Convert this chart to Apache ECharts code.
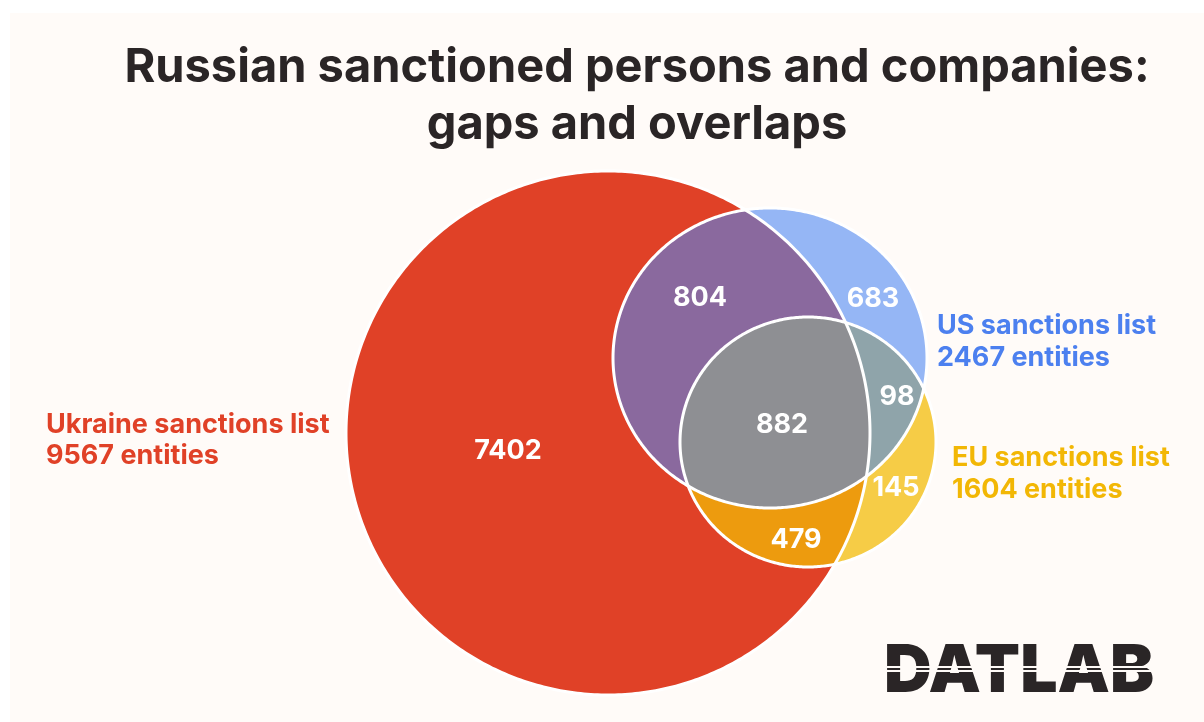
<!DOCTYPE html>
<html>
<head>
<meta charset="utf-8">
<script src="https://cdn.jsdelivr.net/npm/echarts@6/dist/echarts.min.js"></script>
<style>
  html, body { margin: 0; padding: 0; background: #ffffff; }
  #chart { width: 1204px; height: 722px; }
</style>
</head>
<body>
<div id="chart"></div>
<script>
// ---- Data -------------------------------------------------------------
// Sanction lists
const setKeys = ['Ukraine', 'US', 'EU'];
const setTitles = ['Ukraine sanctions list', 'US sanctions list', 'EU sanctions list'];

// Exclusive Venn regions: which lists each region belongs to, and its count
const regionMembers = [
  ['Ukraine'],
  ['Ukraine', 'US'],
  ['US'],
  ['Ukraine', 'US', 'EU'],
  ['US', 'EU'],
  ['EU'],
  ['Ukraine', 'EU']
];
const regionCounts = [7402, 804, 683, 882, 98, 145, 479];

// List totals are the sum of every region a list takes part in
const setTotals = setKeys.map(k =>
  regionCounts.reduce((s, v, i) => s + (regionMembers[i].includes(k) ? v : 0), 0)
);

// ---- Layout (diagram geometry, in plot units) ------------------------
const shapeGeom = {
  Ukraine: { cx: 608, cy: 433, rx: 262, ry: 262 },
  US:      { cx: 770, cy: 358, rx: 157, ry: 150 },
  EU:      { cx: 808, cy: 442, rx: 128, ry: 125 }
};
const regionAnchor = [[508, 451], [700, 298], [873, 299], [782, 425], [897, 397], [896, 488], [796, 540]];
const setLabelAnchor = { Ukraine: [46, 440, 31], US: [937, 342, 32], EU: [952, 474, 32] };
const setLabelColor = { Ukraine: '#E04127', US: '#4C80EF', EU: '#F2B705' };

// Paint order: each layer fills the intersection of the listed shapes
const fillLayers = [
  { sets: ['Ukraine'], color: '#E04127' },
  { sets: ['US'], color: '#95B6F5' },
  { sets: ['Ukraine', 'US'], color: '#8A699E' },
  { sets: ['EU'], color: '#F6CC46' },
  { sets: ['Ukraine', 'EU'], color: '#ED9B0E' },
  { sets: ['US', 'EU'], color: '#8FA4AA' },
  { sets: ['Ukraine', 'US', 'EU'], color: '#8E8F93' }
];

// ---- Geometry helpers -------------------------------------------------
function ellipsePoly(g, n) {
  const pts = [];
  for (let i = 0; i < n; i++) {
    const t = (i / n) * Math.PI * 2;
    pts.push([g.cx + g.rx * Math.cos(t), g.cy + g.ry * Math.sin(t)]);
  }
  return pts;
}

// Sutherland–Hodgman: clip a polygon by a convex polygon
function clipPoly(subject, clipper) {
  let out = subject;
  for (let i = 0; i < clipper.length && out.length; i++) {
    const a = clipper[i], b = clipper[(i + 1) % clipper.length];
    const side = p => (b[0] - a[0]) * (p[1] - a[1]) - (b[1] - a[1]) * (p[0] - a[0]);
    const input = out;
    out = [];
    for (let j = 0; j < input.length; j++) {
      const cur = input[j], prev = input[(j + input.length - 1) % input.length];
      const sc = side(cur), sp = side(prev);
      const cross = () => {
        const t = sp / (sp - sc);
        return [prev[0] + (cur[0] - prev[0]) * t, prev[1] + (cur[1] - prev[1]) * t];
      };
      if (sc >= 0) {
        if (sp < 0) out.push(cross());
        out.push(cur);
      } else if (sp >= 0) {
        out.push(cross());
      }
    }
  }
  return out;
}

const shapePolys = {};
setKeys.forEach(k => { shapePolys[k] = ellipsePoly(shapeGeom[k], 480); });

const layerPolys = fillLayers.map(l =>
  l.sets.slice(1).reduce((acc, k) => clipPoly(acc, shapePolys[k]), shapePolys[l.sets[0]])
);

// ---- Chart ------------------------------------------------------------
const chart = echarts.init(document.getElementById('chart'), null, { renderer: 'canvas' });

const FONT = 'Inter, "Noto Sans", sans-serif';

chart.setOption({
  backgroundColor: '#ffffff',
  animation: false,
  title: {
    text: 'Russian sanctioned persons and companies:\ngaps and overlaps',
    left: 632,
    top: 34,
    textAlign: 'center',
    textStyle: {
      fontFamily: FONT,
      fontSize: 47,
      fontWeight: 700,
      lineHeight: 57,
      color: '#2A2526'
    }
  },
  graphic: [
    {
      type: 'rect', z: -10, silent: true,
      shape: { x: 10, y: 13, width: 1194, height: 709 },
      style: { fill: '#FFFBF8' }
    },
    {
      type: 'text', z: 10, silent: true,
      x: 884, y: 639,
      style: {
        text: 'DATLAB', fill: '#2A2526',
        font: '900 66px ' + FONT
      }
    },
    {
      type: 'rect', z: 11, silent: true,
      shape: { x: 880, y: 666, width: 280, height: 2 },
      style: { fill: '#FFFBF8' }
    },
    {
      type: 'rect', z: 11, silent: true,
      shape: { x: 880, y: 670, width: 280, height: 2 },
      style: { fill: '#FFFBF8' }
    }
  ],
  grid: { left: 0, right: 0, top: 0, bottom: 0 },
  xAxis: { type: 'value', min: 0, max: 1204, show: false },
  yAxis: { type: 'value', min: 0, max: 722, inverse: true, show: false },
  series: [
    {
      // filled Venn regions
      type: 'custom',
      coordinateSystem: 'cartesian2d',
      silent: true,
      data: fillLayers.map((l, i) => [i]),
      renderItem: (params, api) => {
        const i = api.value(0);
        const pts = layerPolys[i].map(p => api.coord(p));
        return {
          type: 'polygon',
          shape: { points: pts },
          style: { fill: fillLayers[i].color, stroke: null }
        };
      },
      z: 1
    },
    {
      // white outlines of each list
      type: 'custom',
      coordinateSystem: 'cartesian2d',
      silent: true,
      data: setKeys.map((k, i) => [i]),
      renderItem: (params, api) => {
        const k = setKeys[api.value(0)];
        const pts = shapePolys[k].map(p => api.coord(p));
        return {
          type: 'polygon',
          shape: { points: pts },
          style: { fill: 'none', stroke: '#ffffff', lineWidth: 3 }
        };
      },
      z: 2
    },
    {
      // region counts
      type: 'custom',
      coordinateSystem: 'cartesian2d',
      silent: true,
      data: regionCounts.map((v, i) => [regionAnchor[i][0], regionAnchor[i][1], v]),
      renderItem: (params, api) => {
        const p = api.coord([api.value(0), api.value(1)]);
        return {
          type: 'text',
          x: p[0], y: p[1],
          style: {
            text: String(api.value(2)),
            fill: '#ffffff',
            font: '700 27px ' + FONT,
            align: 'center',
            verticalAlign: 'middle'
          }
        };
      },
      z: 3
    },
    {
      // list names and totals
      type: 'custom',
      coordinateSystem: 'cartesian2d',
      silent: true,
      data: setKeys.map((k, i) => [setLabelAnchor[k][0], setLabelAnchor[k][1], setTotals[i], i]),
      renderItem: (params, api) => {
        const i = api.value(3);
        const k = setKeys[i];
        const p = api.coord([api.value(0), api.value(1)]);
        return {
          type: 'text',
          x: p[0], y: p[1],
          style: {
            text: setTitles[i] + '\n' + api.value(2) + ' entities',
            fill: setLabelColor[k],
            font: '700 27px ' + FONT,
            lineHeight: setLabelAnchor[k][2],
            align: 'left',
            verticalAlign: 'middle'
          }
        };
      },
      z: 3
    }
  ]
});
</script>
</body>
</html>
